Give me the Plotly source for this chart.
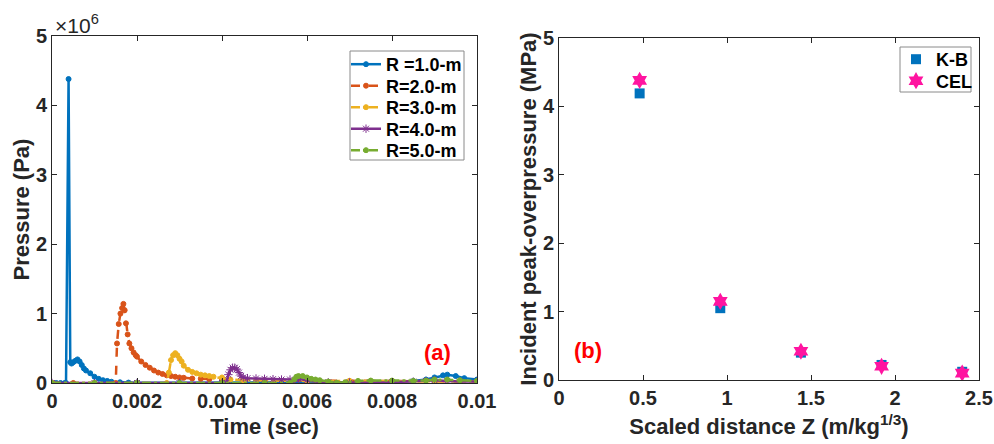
import plotly.graph_objects as go

# ---------------- Panel (a): pressure time histories ----------------
t_r1 = [0, 0.0001, 0.0002, 0.0003, 0.00033, 0.00039, 0.00043, 0.00046, 0.0005, 0.00055, 0.0006,
        0.00065, 0.0007, 0.00075, 0.0008, 0.0009, 0.001, 0.0011, 0.0012, 0.0013, 0.0014, 0.0016,
        0.0018, 0.002, 0.003, 0.004, 0.005, 0.006, 0.007, 0.008, 0.0085, 0.0088, 0.009, 0.0092,
        0.0093, 0.0095, 0.0097, 0.01]
p_r1 = [0, 0, 0, 0, 0, 4.38e6, 0.30e6, 0.28e6, 0.30e6, 0.32e6, 0.34e6,
        0.31e6, 0.26e6, 0.21e6, 0.18e6, 0.14e6, 0.09e6, 0.06e6, 0.04e6, 0.03e6, 0.018e6, 0.01e6,
        0.006e6, 0.004e6, 0.002e6, 0.002e6, 0.003e6, 0.005e6, 0.01e6, 0.02e6, 0.03e6, 0.05e6, 0.08e6, 0.11e6,
        0.12e6, 0.10e6, 0.07e6, 0.05e6]

t_r2 = [0, 0.0005, 0.001, 0.0015, 0.00153, 0.00157, 0.00161, 0.00165, 0.00168, 0.00171, 0.00174,
        0.00178, 0.00182, 0.00187, 0.00192, 0.00197, 0.002, 0.0021, 0.0022, 0.0023, 0.0024, 0.0025,
        0.0026, 0.0027, 0.0028, 0.0029, 0.003, 0.0031, 0.0033, 0.0035, 0.0037, 0.004, 0.0045, 0.005,
        0.006, 0.007, 0.008, 0.009, 0.01]
p_r2 = [0, 0, 0, 0, 0.57e6, 0.85e6, 1.0e6, 1.08e6, 1.14e6, 1.05e6, 0.86e6,
        0.70e6, 0.57e6, 0.50e6, 0.44e6, 0.40e6, 0.38e6, 0.31e6, 0.26e6, 0.22e6, 0.18e6, 0.15e6,
        0.13e6, 0.11e6, 0.10e6, 0.09e6, 0.08e6, 0.075e6, 0.065e6, 0.06e6, 0.055e6, 0.05e6, 0.045e6, 0.04e6,
        0.035e6, 0.03e6, 0.03e6, 0.025e6, 0.02e6]

t_r3 = [0, 0.001, 0.002, 0.0027, 0.00275, 0.0028, 0.00285, 0.0029, 0.00295, 0.003, 0.00305, 0.0031,
        0.0032, 0.0033, 0.0034, 0.0035, 0.0036, 0.0037, 0.0038, 0.004, 0.0042, 0.0045, 0.005, 0.006,
        0.007, 0.008, 0.009, 0.01]
p_r3 = [0, 0, 0, 0, 0.15e6, 0.33e6, 0.40e6, 0.43e6, 0.40e6, 0.35e6, 0.31e6, 0.25e6,
        0.19e6, 0.16e6, 0.14e6, 0.12e6, 0.11e6, 0.10e6, 0.09e6, 0.08e6, 0.05e6, 0.04e6, 0.035e6, 0.03e6,
        0.03e6, 0.025e6, 0.025e6, 0.02e6]

t_r4 = [0, 0.001, 0.002, 0.003, 0.004, 0.0041, 0.00415, 0.0042, 0.00425, 0.0043, 0.00435, 0.0044,
        0.00445, 0.0045, 0.0046, 0.0048, 0.005, 0.0052, 0.0054, 0.0056, 0.0057, 0.0058, 0.006, 0.0062,
        0.0065, 0.007, 0.0075, 0.008, 0.0085, 0.0088, 0.009, 0.0093, 0.0096, 0.01]
p_r4 = [0, 0, 0, 0, 0, 0, 0.12e6, 0.19e6, 0.22e6, 0.22e6, 0.20e6, 0.15e6,
        0.10e6, 0.08e6, 0.07e6, 0.065e6, 0.06e6, 0.055e6, 0.05e6, 0.05e6, 0.02e6, 0.06e6, 0.04e6, 0.02e6,
        0.01e6, 0.005e6, 0.005e6, 0.01e6, 0.02e6, 0.03e6, 0.04e6, 0.03e6, 0.02e6, 0.02e6]

t_r5 = [0, 0.001, 0.002, 0.003, 0.004, 0.005, 0.0056, 0.0057, 0.00575, 0.0058, 0.0059, 0.006,
        0.0061, 0.0062, 0.0063, 0.0065, 0.0067, 0.0069, 0.0072, 0.0075, 0.008, 0.0085, 0.0088, 0.009,
        0.0093, 0.0096, 0.01]
p_r5 = [0, 0, 0, 0, 0, 0, 0, 0.05e6, 0.09e6, 0.10e6, 0.10e6, 0.08e6,
        0.06e6, 0.05e6, 0.04e6, 0.02e6, 0.005e6, 0.01e6, 0.03e6, 0.035e6, 0.035e6, 0.03e6, 0.035e6, 0.05e6,
        0.05e6, 0.04e6, 0.03e6]

series_names = ["R =1.0-m", "R=2.0-m", "R=3.0-m", "R=4.0-m", "R=5.0-m"]

time_ticks = [0, 0.002, 0.004, 0.006, 0.008, 0.01]
time_ticktext = ["0", "0.002", "0.004", "0.006", "0.008", "0.01"]
pres_ticks = [0, 1e6, 2e6, 3e6, 4e6, 5e6]
pres_ticktext = ["0", "1", "2", "3", "4", "5"]

# ---------------- Panel (b): peak overpressure vs scaled distance ----------------
z_scaled = [0.48, 0.96, 1.44, 1.92, 2.40]
kb_mpa = [4.19, 1.05, 0.40, 0.22, 0.12]
cel_mpa = [4.38, 1.15, 0.42, 0.20, 0.10]
point_names = ["K-B", "CEL"]

z_ticks = [0, 0.5, 1, 1.5, 2, 2.5]
z_ticktext = ["0", "0.5", "1", "1.5", "2", "2.5"]
mpa_ticks = [0, 1, 2, 3, 4, 5]
mpa_ticktext = ["0", "1", "2", "3", "4", "5"]

# ---------------- styling ----------------
W, H = 994, 444
FONT = "Arial, 'Liberation Sans', sans-serif"
AX = "#262626"
c_blue, c_orange, c_yellow, c_purple, c_green = "#0072BD", "#D95319", "#EDB120", "#7E2F8E", "#77AC30"
c_magenta = "#FF14A0"

def px(x):
    return x / W

def py(y):
    return 1 - y / H

fig = go.Figure()

# legend rows (pixel centres) for panel (a) and (b)
rows_a = [64.5, 86, 107.5, 129, 150.5]
rows_b = [59.5, 81]
left_legends = ["legend", "legend2", "legend3", "legend4", "legend5"]
right_legends = ["legend6", "legend7"]

styles = [
    (t_r1, p_r1, c_blue, "solid", "circle", 5),
    (t_r2, p_r2, c_orange, "dash", "circle", 5),
    (t_r3, p_r3, c_yellow, "dashdot", "circle", 5),
    (t_r4, p_r4, c_purple, "solid", "asterisk-open", 7),
    (t_r5, p_r5, c_green, "dashdot", "circle", 5),
]
for name, lg, (tx, pv, col, dash, sym, ms) in zip(series_names, left_legends, styles):
    fig.add_trace(go.Scatter(
        x=tx, y=pv, name=name, mode="lines+markers",
        line=dict(color=col, width=2.5, dash=dash),
        marker=dict(color=col, symbol=sym, size=ms, line=dict(color=col, width=1)),
        xaxis="x", yaxis="y", legend=lg,
    ))

fig.add_trace(go.Scatter(
    x=z_scaled, y=kb_mpa, name=point_names[0], mode="markers",
    marker=dict(color=c_blue, symbol="square", size=10),
    xaxis="x2", yaxis="y2", legend=right_legends[0],
))
fig.add_trace(go.Scatter(
    x=z_scaled, y=cel_mpa, name=point_names[1], mode="markers",
    marker=dict(color=c_magenta, symbol="hexagram", size=13),
    xaxis="x2", yaxis="y2", legend=right_legends[1],
))

axis_common = dict(
    showline=True, linecolor=AX, linewidth=1, mirror="ticks",
    ticks="inside", ticklen=5, tickcolor=AX, tickwidth=1,
    showgrid=False, zeroline=False, automargin=False,
    tickfont=dict(family=FONT, size=20, color=AX, weight="bold"),
)
title_font = dict(family=FONT, size=22, color=AX, weight="bold")

leg_font = dict(family=FONT, size=18, color="black", weight="bold")
legends = {}
for lg, yc in zip(left_legends, rows_a):
    legends[lg] = dict(x=px(346), xanchor="left", y=py(yc), yanchor="middle",
                       bgcolor="rgba(0,0,0,0)", borderwidth=0, font=leg_font, itemwidth=30)
for lg, yc in zip(right_legends, rows_b):
    legends[lg] = dict(x=px(896), xanchor="left", y=py(yc), yanchor="middle",
                       bgcolor="rgba(0,0,0,0)", borderwidth=0, font=leg_font, itemwidth=30)

fig.update_layout(
    width=W, height=H,
    margin=dict(l=0, r=0, t=0, b=0),
    paper_bgcolor="white", plot_bgcolor="white",
    font=dict(family=FONT, color=AX),
    showlegend=True,
    xaxis=dict(domain=[px(52), px(477)], range=[0, 0.01], anchor="y",
               tickvals=time_ticks, ticktext=time_ticktext,
               title=dict(text="Time (sec)", font=title_font, standoff=7), **axis_common),
    yaxis=dict(domain=[py(383), py(36)], range=[0, 5e6], anchor="x",
               tickvals=pres_ticks, ticktext=pres_ticktext,
               title=dict(text="Pressure (Pa)", font=title_font, standoff=0), **axis_common),
    xaxis2=dict(domain=[px(559), px(979)], range=[0, 2.5], anchor="y2",
                tickvals=z_ticks, ticktext=z_ticktext,
                title=dict(text="Scaled distance Z (m/kg<sup>1/3</sup>)", font=title_font, standoff=10),
                **axis_common),
    yaxis2=dict(domain=[py(380), py(38)], range=[0, 5], anchor="x2",
                tickvals=mpa_ticks, ticktext=mpa_ticktext,
                title=dict(text="Incident peak-overpressure (MPa)", font=title_font, standoff=0),
                **axis_common),
    shapes=[
        dict(type="rect", xref="paper", yref="paper", x0=px(350), x1=px(464), y0=py(160), y1=py(51),
             line=dict(color="#8a8a8a", width=1), fillcolor="white", layer="above"),
        dict(type="rect", xref="paper", yref="paper", x0=px(900), x1=px(971), y0=py(92), y1=py(47),
             line=dict(color="#8a8a8a", width=1), fillcolor="white", layer="above"),
    ],
    annotations=[
        dict(text="×10<sup>6</sup>", x=px(53), y=py(24), xref="paper", yref="paper",
             xanchor="left", yanchor="middle", showarrow=False,
             font=dict(family=FONT, size=21, color=AX)),
        dict(text="(a)", x=px(437), y=py(352), xref="paper", yref="paper",
             xanchor="center", yanchor="middle", showarrow=False,
             font=dict(family=FONT, size=22, color="#FF0000", weight="bold")),
        dict(text="(b)", x=px(588), y=py(350), xref="paper", yref="paper",
             xanchor="center", yanchor="middle", showarrow=False,
             font=dict(family=FONT, size=22, color="#FF0000", weight="bold")),
    ],
    **legends,
)

fig.write_html("out.html")
